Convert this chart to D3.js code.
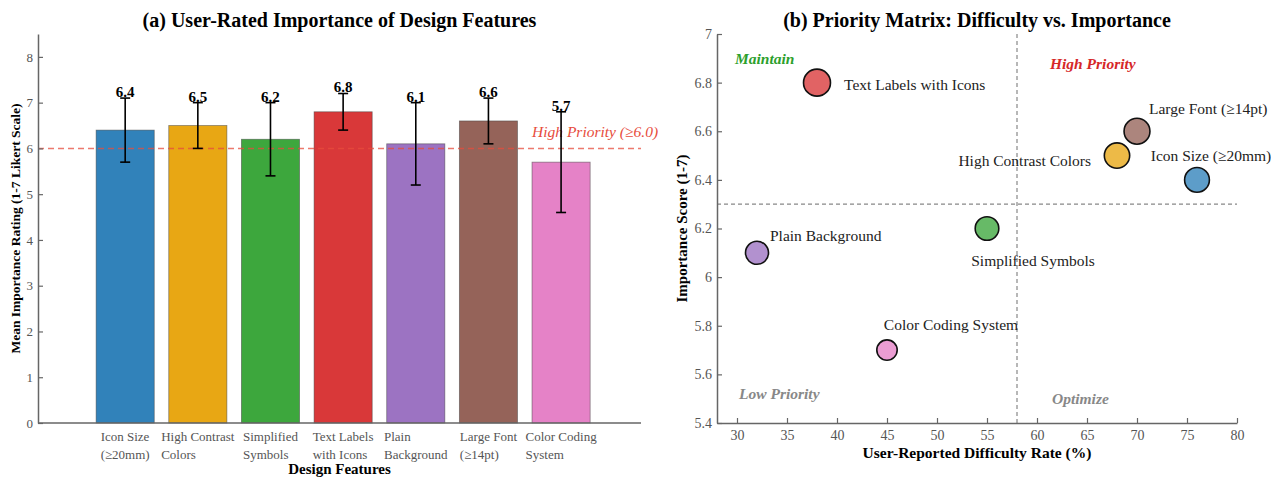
<!DOCTYPE html>
<html>
<head>
<meta charset="utf-8">
<script src="https://cdn.jsdelivr.net/npm/d3@7"></script>
<style>
  body { margin: 0; background: #fff; }
  svg { display: block; font-family: "Liberation Serif", "Times New Roman", serif; }
  .tick text { fill: #555; }
</style>
</head>
<body>
<svg id="chart" width="1271" height="477"></svg>
<script>
// ---- data ----
const features = [
  "Icon Size (≥20mm)",
  "High Contrast Colors",
  "Simplified Symbols",
  "Text Labels with Icons",
  "Plain Background",
  "Large Font (≥14pt)",
  "Color Coding System",
];
const featureLines = [
  ["Icon Size", "(≥20mm)"],
  ["High Contrast", "Colors"],
  ["Simplified", "Symbols"],
  ["Text Labels", "with Icons"],
  ["Plain", "Background"],
  ["Large Font", "(≥14pt)"],
  ["Color Coding", "System"],
];
const importance = [6.4, 6.5, 6.2, 6.8, 6.1, 6.6, 5.7];
const importanceSd = [0.7, 0.5, 0.8, 0.4, 0.9, 0.5, 1.1];
const difficulty = [76, 68, 55, 38, 32, 70, 45];
const colors = ["#1f77b4", "#E69F00", "#2ca02c", "#d62728", "#9467bd", "#8c564b", "#e377c2"];

const ratingTicks = [0, 1, 2, 3, 4, 5, 6, 7, 8];
const scoreTicks = [5.4, 5.6, 5.8, 6.0, 6.2, 6.4, 6.6, 6.8, 7.0];
const difficultyTicks = [30, 35, 40, 45, 50, 55, 60, 65, 70, 75, 80];

const highPriorityLine = 6.0;
const difficultySplit = 58;
const importanceSplit = 6.3;

const quadrants = [
  { text: "Maintain", x: 29.8, y: 6.9, color: "#2ca02c" },
  { text: "High Priority", x: 61.3, y: 6.88, color: "#d62728" },
  { text: "Low Priority", x: 30.2, y: 5.52, color: "#888" },
  { text: "Optimize", x: 61.5, y: 5.5, color: "#888" },
];

// label placement for the scatter annotations (pixel offsets, anchor)
const labelOffsets = [
  { dx: 14, dy: -24, anchor: "middle" },
  { dx: -26, dy: 5, anchor: "end" },
  { dx: 46, dy: 32, anchor: "middle" },
  { dx: 27, dy: 2, anchor: "start" },
  { dx: 13, dy: -17, anchor: "start" },
  { dx: 12, dy: -23, anchor: "start" },
  { dx: 64, dy: -25, anchor: "middle" },
];

const svg = d3.select("#chart");

// ---------- (a) bar chart ----------
const A = { left: 38, right: 641, top: 34, bottom: 423 };
const xA = d3.scaleLinear().domain([-1.2, 7.1]).range([A.left, A.right]);
const yA = d3.scaleLinear().domain([0, 8.5]).range([A.bottom, A.top]);
const barW = xA(0.4) - xA(-0.4);

const gA = svg.append("g");

gA.append("g")
  .selectAll("rect")
  .data(importance)
  .join("rect")
  .attr("x", (d, i) => xA(i) - barW / 2)
  .attr("y", (d) => yA(d))
  .attr("width", barW)
  .attr("height", (d) => yA(0) - yA(d))
  .attr("fill", (d, i) => colors[i])
  .attr("fill-opacity", 0.92)
  .attr("stroke", "#444")
  .attr("stroke-opacity", 0.6)
  .attr("stroke-width", 0.8);

// threshold line
gA.append("line")
  .attr("x1", A.left)
  .attr("x2", A.right)
  .attr("y1", yA(highPriorityLine))
  .attr("y2", yA(highPriorityLine))
  .attr("stroke", "#e74c3c")
  .attr("stroke-opacity", 0.75)
  .attr("stroke-width", 1.5)
  .attr("stroke-dasharray", "6,4");

gA.append("text")
  .attr("x", xA(5.6))
  .attr("y", yA(6.24))
  .attr("fill", "#e74c3c")
  .attr("font-style", "italic")
  .attr("font-size", 15.5)
  .text("High Priority (≥6.0)");

// error bars
const err = gA.append("g").attr("stroke", "#000").attr("stroke-width", 1.6);
importance.forEach((m, i) => {
  const x = xA(i);
  const lo = yA(m - importanceSd[i]);
  const hi = yA(m + importanceSd[i]);
  err.append("line").attr("x1", x).attr("x2", x).attr("y1", lo).attr("y2", hi);
  err.append("line").attr("x1", x - 5).attr("x2", x + 5).attr("y1", lo).attr("y2", lo);
  err.append("line").attr("x1", x - 5).attr("x2", x + 5).attr("y1", hi).attr("y2", hi);
});

gA.append("g")
  .selectAll("text")
  .data(importance)
  .join("text")
  .attr("x", (d, i) => xA(i))
  .attr("y", (d, i) => yA(d + importanceSd[i]) - 1)
  .attr("text-anchor", "middle")
  .attr("font-weight", "bold")
  .attr("font-size", 15)
  .text((d) => d.toFixed(1));

// axes
const yAxisA = gA.append("g")
  .attr("transform", `translate(${A.left},0)`)
  .call(d3.axisLeft(yA).tickValues(ratingTicks).tickSize(-5).tickSizeOuter(0).tickPadding(5));
yAxisA.selectAll("text").attr("font-size", 13);

gA.append("line")
  .attr("x1", A.left)
  .attr("x2", A.right)
  .attr("y1", A.bottom)
  .attr("y2", A.bottom)
  .attr("stroke", "#666")
  .attr("stroke-width", 1.5);

// category labels: block centred on the bar, lines left-aligned
const catG = gA.append("g").attr("font-size", 13).attr("fill", "#555");
featureLines.forEach((lines, i) => {
  const t = catG.append("text").attr("y", 441);
  lines.forEach((ln, j) => {
    t.append("tspan").attr("dy", j === 0 ? 0 : 18).text(ln);
  });
  const spans = t.selectAll("tspan").nodes();
  const w = d3.max(spans, (s) => s.getComputedTextLength());
  const x0 = xA(i) - w / 2;
  t.selectAll("tspan").attr("x", x0);
});

gA.append("text")
  .attr("x", (A.left + A.right) / 2)
  .attr("y", 474)
  .attr("text-anchor", "middle")
  .attr("font-weight", "bold")
  .attr("font-size", 15)
  .text("Design Features");

gA.append("text")
  .attr("transform", `translate(20,${(A.top + A.bottom) / 2}) rotate(-90)`)
  .attr("text-anchor", "middle")
  .attr("font-weight", "bold")
  .attr("font-size", 13.5)
  .text("Mean Importance Rating (1-7 Likert Scale)");

gA.append("text")
  .attr("x", (A.left + A.right) / 2)
  .attr("y", 27)
  .attr("text-anchor", "middle")
  .attr("font-weight", "bold")
  .attr("font-size", 20)
  .text("(a) User-Rated Importance of Design Features");

// ---------- (b) priority matrix ----------
const B = { left: 717, right: 1237, top: 34, bottom: 423 };
const xB = d3.scaleLinear().domain([28, 80]).range([B.left, B.right]);
const yB = d3.scaleLinear().domain([5.4, 7]).range([B.bottom, B.top]);
const area = d3.scaleLinear().domain([5.7, 6.8]).range([104, 182]);

const gB = svg.append("g");

gB.append("line")
  .attr("x1", xB(difficultySplit)).attr("x2", xB(difficultySplit))
  .attr("y1", B.top).attr("y2", B.bottom)
  .attr("stroke", "#888").attr("stroke-width", 1.2).attr("stroke-dasharray", "4,3");
gB.append("line")
  .attr("x1", B.left).attr("x2", B.right)
  .attr("y1", yB(importanceSplit)).attr("y2", yB(importanceSplit))
  .attr("stroke", "#888").attr("stroke-width", 1.2).attr("stroke-dasharray", "4,3");

gB.append("g")
  .selectAll("text")
  .data(quadrants)
  .join("text")
  .attr("x", (d) => xB(d.x))
  .attr("y", (d) => yB(d.y))
  .attr("dy", "0.35em")
  .attr("fill", (d) => d.color)
  .attr("font-weight", "bold")
  .attr("font-style", "italic")
  .attr("font-size", 15.5)
  .text((d) => d.text);

gB.append("g")
  .selectAll("circle")
  .data(importance)
  .join("circle")
  .attr("cx", (d, i) => xB(difficulty[i]))
  .attr("cy", (d) => yB(d))
  .attr("r", (d) => Math.sqrt(area(d)))
  .attr("fill", (d, i) => colors[i])
  .attr("fill-opacity", 0.72)
  .attr("stroke", "#111")
  .attr("stroke-width", 1.6);

gB.append("g")
  .selectAll("text")
  .data(features)
  .join("text")
  .attr("x", (d, i) => xB(difficulty[i]) + labelOffsets[i].dx)
  .attr("y", (d, i) => yB(importance[i]) + labelOffsets[i].dy)
  .attr("dy", "0.35em")
  .attr("text-anchor", (d, i) => labelOffsets[i].anchor)
  .attr("font-size", 15.5)
  .attr("fill", "#222")
  .text((d) => d);

const yAxisB = gB.append("g")
  .attr("transform", `translate(${B.left},0)`)
  .call(d3.axisLeft(yB).tickValues(scoreTicks).tickFormat((d) => String(+d.toFixed(1)))
    .tickSize(-5).tickSizeOuter(0).tickPadding(5));
yAxisB.selectAll("text").attr("font-size", 14);

const xAxisB = gB.append("g")
  .attr("transform", `translate(0,${B.bottom})`)
  .call(d3.axisBottom(xB).tickValues(difficultyTicks).tickSize(-5).tickSizeOuter(0).tickPadding(7));
xAxisB.selectAll("text").attr("font-size", 14);

[yAxisA, yAxisB, xAxisB].forEach((ax) => {
  ax.select(".domain").attr("stroke", "#666").attr("stroke-width", 1.5);
  ax.selectAll(".tick line").attr("stroke", "#666").attr("stroke-width", 1.2);
  ax.selectAll("text").attr("font-family", "Liberation Serif");
});

gB.append("text")
  .attr("x", (B.left + B.right) / 2)
  .attr("y", 458)
  .attr("text-anchor", "middle")
  .attr("font-weight", "bold")
  .attr("font-size", 15.5)
  .text("User-Reported Difficulty Rate (%)");

gB.append("text")
  .attr("transform", `translate(687,${(B.top + B.bottom) / 2}) rotate(-90)`)
  .attr("text-anchor", "middle")
  .attr("font-weight", "bold")
  .attr("font-size", 15)
  .text("Importance Score (1-7)");

gB.append("text")
  .attr("x", (B.left + B.right) / 2)
  .attr("y", 27)
  .attr("text-anchor", "middle")
  .attr("font-weight", "bold")
  .attr("font-size", 20)
  .text("(b) Priority Matrix: Difficulty vs. Importance");
</script>
</body>
</html>
